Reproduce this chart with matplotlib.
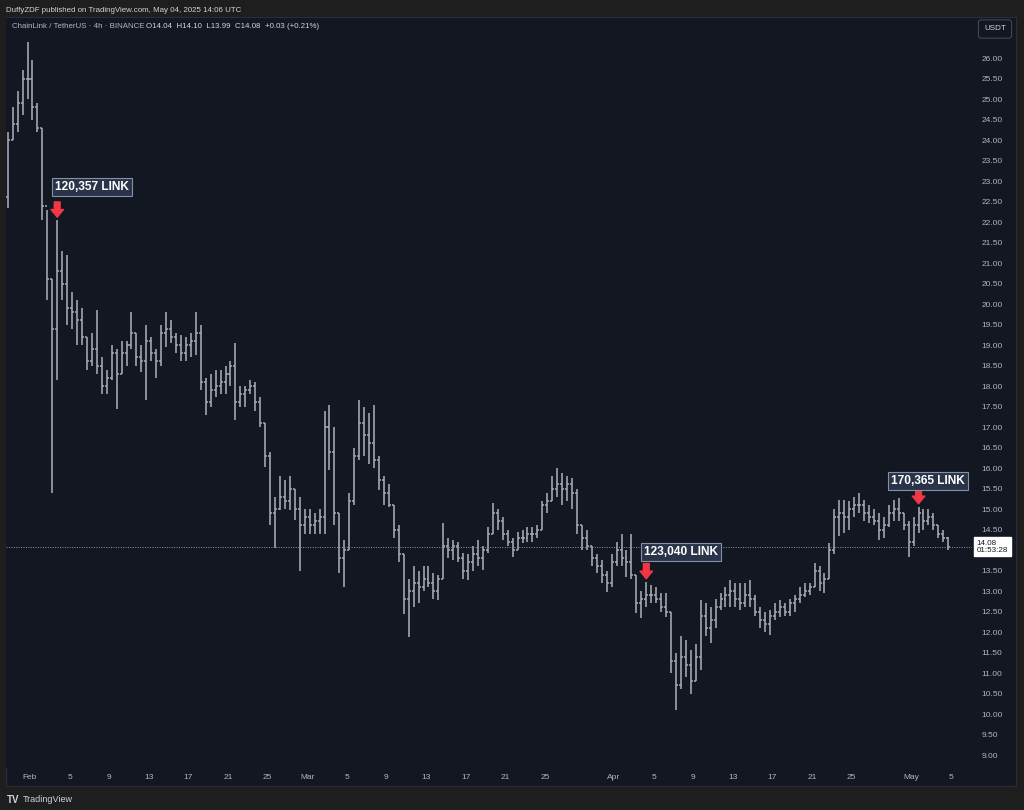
import matplotlib
matplotlib.use('Agg')
import matplotlib.pyplot as plt
import matplotlib.dates as mdates
import matplotlib.transforms as mtransforms
from matplotlib.patches import Rectangle
import numpy as np
import pandas as pd

# LINK/USDT, 12h bars (first bar Jan 29 12:00 UTC)
first_bar = '2025-01-29 12:00'
first_open = 22.6
lows = [22.35, 24.0, 24.2, 24.6, 25.0, 24.5, 24.2, 22.05, 20.1, 15.4,
        18.15, 20.1, 19.5, 19.4, 19.0, 19.0, 18.4, 18.5, 18.3, 17.8,
        17.8, 18.15, 17.45, 18.3, 18.5, 18.9, 18.5, 18.35, 17.66, 18.6,
        18.2, 18.5, 18.96, 19.04, 18.8, 18.6, 18.6, 18.7, 18.75, 17.9,
        17.3, 17.5, 17.74, 17.8, 17.8, 18.0, 17.17, 17.5, 17.5, 17.8,
        17.4, 17.0, 16.03, 14.6, 14.05, 14.98, 15.0, 14.98, 14.73, 13.5,
        14.4, 14.4, 14.4, 14.4, 14.4, 15.95, 14.6, 13.43, 13.1, 14.0,
        15.1, 16.2, 16.3, 16.1, 16.0, 15.46, 15.1, 15.06, 14.3, 13.7,
        12.45, 11.88, 12.6, 12.7, 13.0, 13.1, 12.8, 12.78, 13.3, 13.8,
        13.76, 13.7, 13.3, 13.27, 13.5, 13.6, 13.51, 13.92, 14.4, 14.49,
        14.24, 14.1, 13.84, 14.0, 14.16, 14.2, 14.2, 14.3, 14.5, 14.9,
        15.2, 15.3, 15.1, 15.2, 15.0, 14.4, 14.0, 14.0, 13.6, 13.43,
        13.2, 12.98, 13.1, 13.6, 13.6, 13.35, 13.3, 12.46, 12.33, 12.62,
        12.7, 12.7, 12.5, 12.37, 11.0, 10.1, 10.6, 10.9, 10.5, 10.8,
        11.07, 11.9, 11.72, 12.1, 12.54, 12.6, 12.62, 12.6, 12.54, 12.6,
        12.62, 12.4, 12.1, 12.0, 11.93, 12.3, 12.37, 12.4, 12.4, 12.5,
        12.7, 12.86, 12.9, 13.1, 13.0, 12.94, 13.3, 13.9, 14.33, 14.41,
        14.5, 14.81, 14.9, 14.7, 14.65, 14.6, 14.25, 14.3, 14.57, 14.7,
        14.7, 14.5, 13.84, 14.1, 14.41, 14.5, 14.6, 14.5, 14.3, 14.2,
        13.99]
highs = [24.2, 24.8, 25.2, 25.7, 26.4, 25.95, 24.9, 24.3, 22.3, 20.6,
         22.05, 21.3, 21.2, 20.3, 20.1, 19.9, 19.2, 19.3, 19.85, 18.7,
         18.4, 19.0, 18.9, 19.1, 19.1, 19.8, 19.3, 19.0, 19.5, 19.2,
         18.9, 19.5, 19.8, 19.6, 19.3, 19.25, 19.2, 19.3, 19.8, 19.5,
         18.2, 18.3, 18.4, 18.4, 18.5, 18.6, 19.04, 18.0, 18.0, 18.15,
         18.1, 17.74, 17.1, 16.4, 15.3, 15.8, 15.7, 15.8, 15.5, 15.3,
         15.0, 15.0, 14.9, 15.0, 17.4, 17.54, 17.0, 14.9, 14.24, 15.4,
         16.5, 17.66, 17.5, 17.33, 17.54, 16.3, 15.8, 15.6, 15.1, 14.6,
         13.9, 13.3, 13.6, 13.5, 13.6, 13.6, 13.45, 13.4, 14.65, 14.3,
         14.24, 14.2, 13.92, 13.9, 14.1, 14.24, 14.1, 14.57, 15.14, 15.0,
         14.8, 14.5, 14.3, 14.45, 14.5, 14.57, 14.55, 14.6, 15.2, 15.38,
         15.8, 15.99, 15.87, 15.8, 15.75, 15.5, 14.6, 14.5, 14.1, 13.9,
         13.76, 13.5, 13.9, 14.2, 14.4, 14.0, 14.4, 13.4, 13.0, 13.23,
         13.15, 13.1, 12.95, 12.94, 12.5, 11.5, 11.9, 11.8, 11.56, 11.7,
         12.78, 12.7, 12.6, 12.8, 12.94, 13.1, 13.27, 13.2, 13.19, 13.2,
         13.27, 12.9, 12.6, 12.5, 12.54, 12.7, 12.78, 12.7, 12.8, 12.9,
         13.1, 13.2, 13.19, 13.68, 13.6, 13.43, 14.16, 15.0, 15.22, 15.22,
         15.2, 15.3, 15.38, 15.22, 15.1, 15.0, 14.9, 14.8, 15.1, 15.22,
         15.26, 14.9, 14.7, 14.8, 15.06, 15.0, 15.0, 14.9, 14.62, 14.5,
         14.32]
closes = [24.0, 24.4, 24.9, 25.5, 25.5, 24.8, 24.3, 22.4, 20.6, 19.4,
          20.8, 20.5, 19.9, 19.8, 19.6, 19.2, 18.6, 18.9, 18.5, 18.0,
          18.2, 18.8, 18.3, 18.8, 19.0, 19.3, 18.7, 18.6, 19.1, 18.8,
          18.6, 19.3, 19.4, 19.2, 19.0, 18.8, 19.0, 19.1, 19.3, 18.1,
          17.6, 17.9, 18.0, 18.1, 18.3, 18.5, 17.6, 17.8, 17.9, 18.0,
          17.6, 17.1, 16.3, 14.9, 15.0, 15.3, 15.2, 15.5, 15.0, 14.6,
          14.8, 14.6, 14.7, 14.8, 17.0, 16.4, 14.9, 13.8, 14.0, 15.2,
          16.3, 17.1, 16.8, 16.6, 16.2, 15.7, 15.4, 15.1, 14.5, 13.9,
          12.8, 13.0, 13.2, 13.1, 13.3, 13.2, 13.0, 13.3, 14.1, 14.0,
          14.1, 13.8, 13.5, 13.7, 13.9, 13.8, 14.0, 14.4, 14.9, 14.7,
          14.4, 14.2, 14.0, 14.3, 14.3, 14.4, 14.4, 14.5, 15.1, 15.2,
          15.5, 15.6, 15.5, 15.6, 15.4, 14.6, 14.3, 14.1, 13.8, 13.6,
          13.4, 13.2, 13.7, 14.0, 13.8, 13.7, 13.4, 12.7, 12.8, 12.9,
          12.9, 12.8, 12.6, 12.5, 11.3, 10.7, 11.4, 11.2, 10.8, 11.4,
          12.4, 12.1, 12.3, 12.6, 12.8, 12.9, 13.0, 12.8, 12.7, 12.9,
          12.8, 12.5, 12.3, 12.2, 12.4, 12.5, 12.6, 12.5, 12.7, 12.8,
          12.9, 13.0, 13.1, 13.5, 13.2, 13.3, 14.0, 14.8, 14.9, 14.8,
          15.0, 15.1, 15.1, 14.9, 14.8, 14.7, 14.5, 14.6, 14.9, 15.0,
          14.9, 14.6, 14.2, 14.6, 14.9, 14.7, 14.8, 14.6, 14.4, 14.3,
          14.08]
opens = [first_open] + closes[:-1]

# whale deposit markers: bar index and label
mark_bars = [10, 129, 184]
mark_text = ['120,357 LINK', '123,040 LINK', '170,365 LINK']
mark_offset = [(25, 24), (25, 21), (7, 18.5)]  # label offset in points

tick_dates = ['2025-02-01', '2025-02-05', '2025-02-09', '2025-02-13', '2025-02-17',
              '2025-02-21', '2025-02-25', '2025-03-01', '2025-03-05', '2025-03-09',
              '2025-03-13', '2025-03-17', '2025-03-21', '2025-03-25', '2025-04-01',
              '2025-04-05', '2025-04-09', '2025-04-13', '2025-04-17', '2025-04-21',
              '2025-04-25', '2025-05-01', '2025-05-05']
tick_labels = ['Feb', '5', '9', '13', '17', '21', '25', 'Mar', '5', '9', '13', '17',
               '21', '25', 'Apr', '5', '9', '13', '17', '21', '25', 'May', '5']
price_ticks = np.arange(9.0, 26.01, 0.5)

BG = '#131722'
OUTER = '#1e1e1e'
TXT = '#b2b5be'
BAR = '#a9acb5'
RED = '#f23645'

W, H = 1024, 810
fx = lambda px: px / W
fy = lambda py: 1 - py / H

plt.rcParams['font.family'] = ['Liberation Sans', 'DejaVu Sans']

fig = plt.figure(figsize=(W / 100, H / 100), dpi=100)
fig.patch.set_facecolor(OUTER)
fig.patches.append(Rectangle((fx(6), fy(786)), fx(1016) - fx(6), fy(17) - fy(786),
                             transform=fig.transFigure, facecolor=BG,
                             edgecolor='#2a2e39', lw=0.8, zorder=-10))

ax = fig.add_axes([fx(6), fy(768), fx(972) - fx(6), fy(18) - fy(768)])
ax.set_zorder(1)
ax.set_facecolor(BG)
for s in ax.spines.values():
    s.set_visible(False)

t = mdates.date2num(pd.date_range(first_bar, periods=len(closes), freq='12h')) + 0.25
w = 0.2
ax.vlines(t, lows, highs, color=BAR, lw=1.15)
ax.hlines(opens, t - w, t, color=BAR, lw=1.1)
ax.hlines(closes, t, t + w, color=BAR, lw=1.1)

base = mdates.date2num(pd.Timestamp('2025-02-01'))
ax.set_xlim(base - 2.424, base + 95.15)
ax.set_ylim(8.683, 26.976)

# last price line + label (covers the 14.00 axis label, as on the chart)
ax.axhline(closes[-1], color='#9598a1', lw=0.7, ls=(0, (1, 1.5)))
trans = mtransforms.blended_transform_factory(ax.transAxes, ax.transData)
ax.text(1.005, closes[-1], f'{closes[-1]:.2f}\n01:53:28', transform=trans,
        ha='left', va='center', fontsize=5.8, color='#131722', linespacing=1.05,
        bbox=dict(boxstyle='square,pad=0.3', fc='white', ec='white'), clip_on=False)

# deposit markers
for i, txt, off in zip(mark_bars, mark_text, mark_offset):
    ax.annotate('', xy=(t[i], highs[i]), xytext=(0, 13), textcoords='offset points',
                arrowprops=dict(arrowstyle='simple,head_length=0.55,head_width=0.9,tail_width=0.42',
                                fc=RED, ec=RED, mutation_scale=10, shrinkA=0, shrinkB=2))
    ax.annotate(txt, xy=(t[i], highs[i]), xytext=off, textcoords='offset points',
                ha='center', va='center', fontsize=8.6, fontweight='bold', color='white',
                bbox=dict(boxstyle='square,pad=0.25', fc='#2a3448', ec='#8391a8', lw=0.8))

ax.yaxis.tick_right()
ax.set_yticks(price_ticks)
ax.set_yticklabels(['' if abs(p - closes[-1]) < 0.25 else f'{p:.2f}' for p in price_ticks])
ax.set_xticks(mdates.date2num(pd.to_datetime(tick_dates)))
ax.set_xticklabels(tick_labels)
ax.tick_params(axis='y', length=0, pad=7, labelsize=6, labelcolor=TXT)
ax.tick_params(axis='x', length=0, pad=4, labelsize=6, labelcolor=TXT)

# header and footer
fig.text(fx(6), fy(10), 'DuffyZDF published on TradingView.com, May 04, 2025 14:06 UTC',
         fontsize=5.7, color='#d1d4dc', va='center')
fig.text(fx(12), fy(27), 'ChainLink / TetherUS · 4h · BINANCE', fontsize=5.7,
         color=TXT, va='center', zorder=5)
fig.text(fx(146), fy(27), 'O14.04  H14.10  L13.99  C14.08  +0.03 (+0.21%)',
         fontsize=5.7, color='#d1d4dc', va='center', zorder=5)
fig.text(fx(995), fy(29), 'USDT', fontsize=5.8, color='#d1d4dc', ha='center', va='center',
         zorder=5,
         bbox=dict(boxstyle='round,pad=0.7,rounding_size=0.3', fc=BG, ec='#434651', lw=0.8))
fig.text(fx(7), fy(800), 'TV', fontsize=7, fontweight='bold', color='#d1d4dc', va='center')
fig.text(fx(23), fy(800), 'TradingView', fontsize=6.5, color='#d1d4dc', va='center')

fig.savefig('out.png', dpi=100, facecolor=OUTER)
